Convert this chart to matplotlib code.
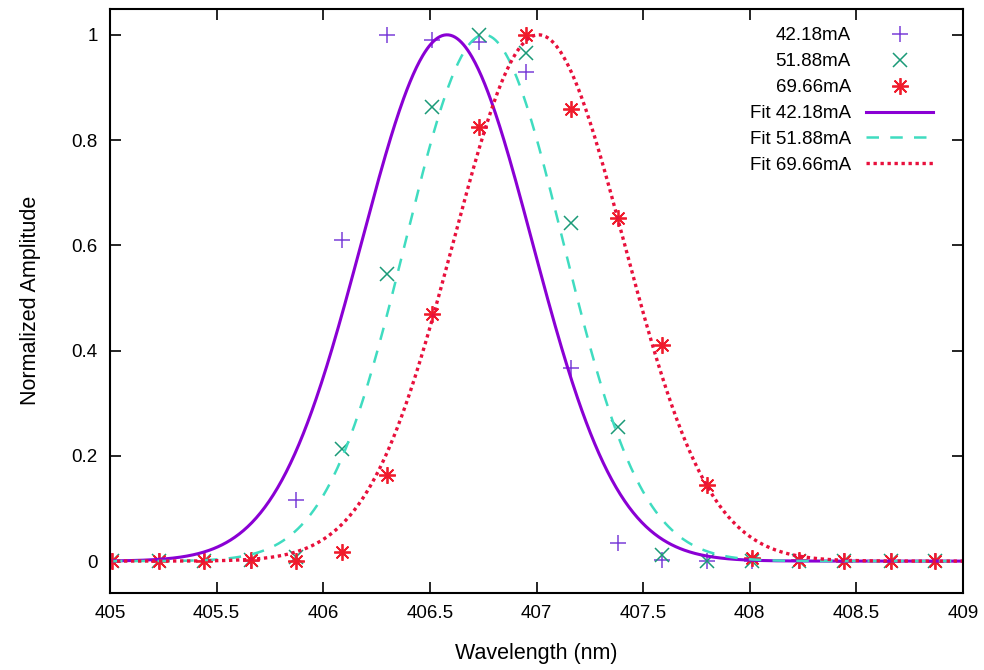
import numpy as np
import matplotlib
matplotlib.use("Agg")
import matplotlib.pyplot as plt
from matplotlib.ticker import FuncFormatter, MultipleLocator

plt.rcParams['font.family'] = ['Liberation Sans', 'DejaVu Sans']

# Measured spectra (normalized)
wavelength = [405.01, 405.23, 405.44, 405.66, 405.87, 406.09, 406.30, 406.51,
              406.73, 406.95, 407.16, 407.38, 407.59, 407.80, 408.01, 408.23,
              408.44, 408.66, 408.87]
amp_4218 = [0, 0, 0, 0, 0.117, 0.61, 1.0, 0.99, 0.987, 0.929, 0.366, 0.034,
            0.002, 0, 0, 0, 0, 0, 0]
amp_5188 = [0, 0, 0, 0.003, 0.008, 0.213, 0.545, 0.863, 1.0, 0.965, 0.643,
            0.254, 0.011, 0, 0, 0, 0, 0, 0]
amp_6966 = [0, 0, 0, 0.003, 0.001, 0.018, 0.164, 0.47, 0.825, 1.0, 0.86,
            0.651, 0.41, 0.144, 0.005, 0.002, 0, 0, 0]

labels = ["42.18mA", "51.88mA", "69.66mA"]

# Gaussian fit parameters: centre (nm), sigma (nm), amplitude
fit_center = [406.58, 406.755, 407.01]
fit_sigma = [0.40, 0.37, 0.40]
fit_amp = [1.0, 1.0, 1.0]

fig = plt.figure(figsize=(9.84, 6.70), dpi=100)
ax = fig.add_axes([0.1118, 0.1154, 0.8669, 0.8719])

mark_colors = ["#7a3fd8", "#1a9a78", "#f01c2c"]
line_colors = ["#8a00d4", "#3fdcc0", "#e8103c"]

ax.plot(wavelength, amp_4218, linestyle="none", marker="+", markersize=11,
        markeredgewidth=1.1, color=mark_colors[0], label=labels[0])
ax.plot(wavelength, amp_5188, linestyle="none", marker="x", markersize=10,
        markeredgewidth=1.1, color=mark_colors[1], label=labels[1])
ax.plot(wavelength, amp_6966, linestyle="none", marker=(8, 2, 0), markersize=12,
        markeredgewidth=1.3, color=mark_colors[2], label=labels[2])

xf = np.linspace(405, 409, 800)
styles = ["-", (0, (5, 4.5)), (0, (1, 1.1))]
widths = [2.2, 1.8, 2.4]
for c, s, a, col, ls, lw, lab in zip(fit_center, fit_sigma, fit_amp,
                                     line_colors, styles, widths, labels):
    ax.plot(xf, a * np.exp(-(xf - c) ** 2 / (2 * s ** 2)), color=col,
            linestyle=ls, linewidth=lw, label="Fit " + lab)

ax.set_xlim(405, 409)
ax.set_ylim(-0.06, 1.05)
ax.xaxis.set_major_locator(MultipleLocator(0.5))
ax.yaxis.set_major_locator(MultipleLocator(0.2))
fmt = FuncFormatter(lambda v, p: "%g" % round(v, 6))
ax.xaxis.set_major_formatter(fmt)
ax.yaxis.set_major_formatter(fmt)
ax.tick_params(direction="in", length=8, width=1.2, top=True, right=True,
               labelsize=13.5, pad=9, colors="black")
for sp in ax.spines.values():
    sp.set_linewidth(1.5)

ax.set_xlabel("Wavelength (nm)", fontsize=15.5, labelpad=15)
ax.set_ylabel("Normalized Amplitude", fontsize=15.5, labelpad=22)

leg = ax.legend(loc="upper right", bbox_to_anchor=(0.985, 0.997), frameon=False,
                markerfirst=False, fontsize=13.5, handlelength=3.6,
                labelspacing=0.47, handletextpad=0.8, numpoints=1)

fig.savefig("out.png", dpi=100)
